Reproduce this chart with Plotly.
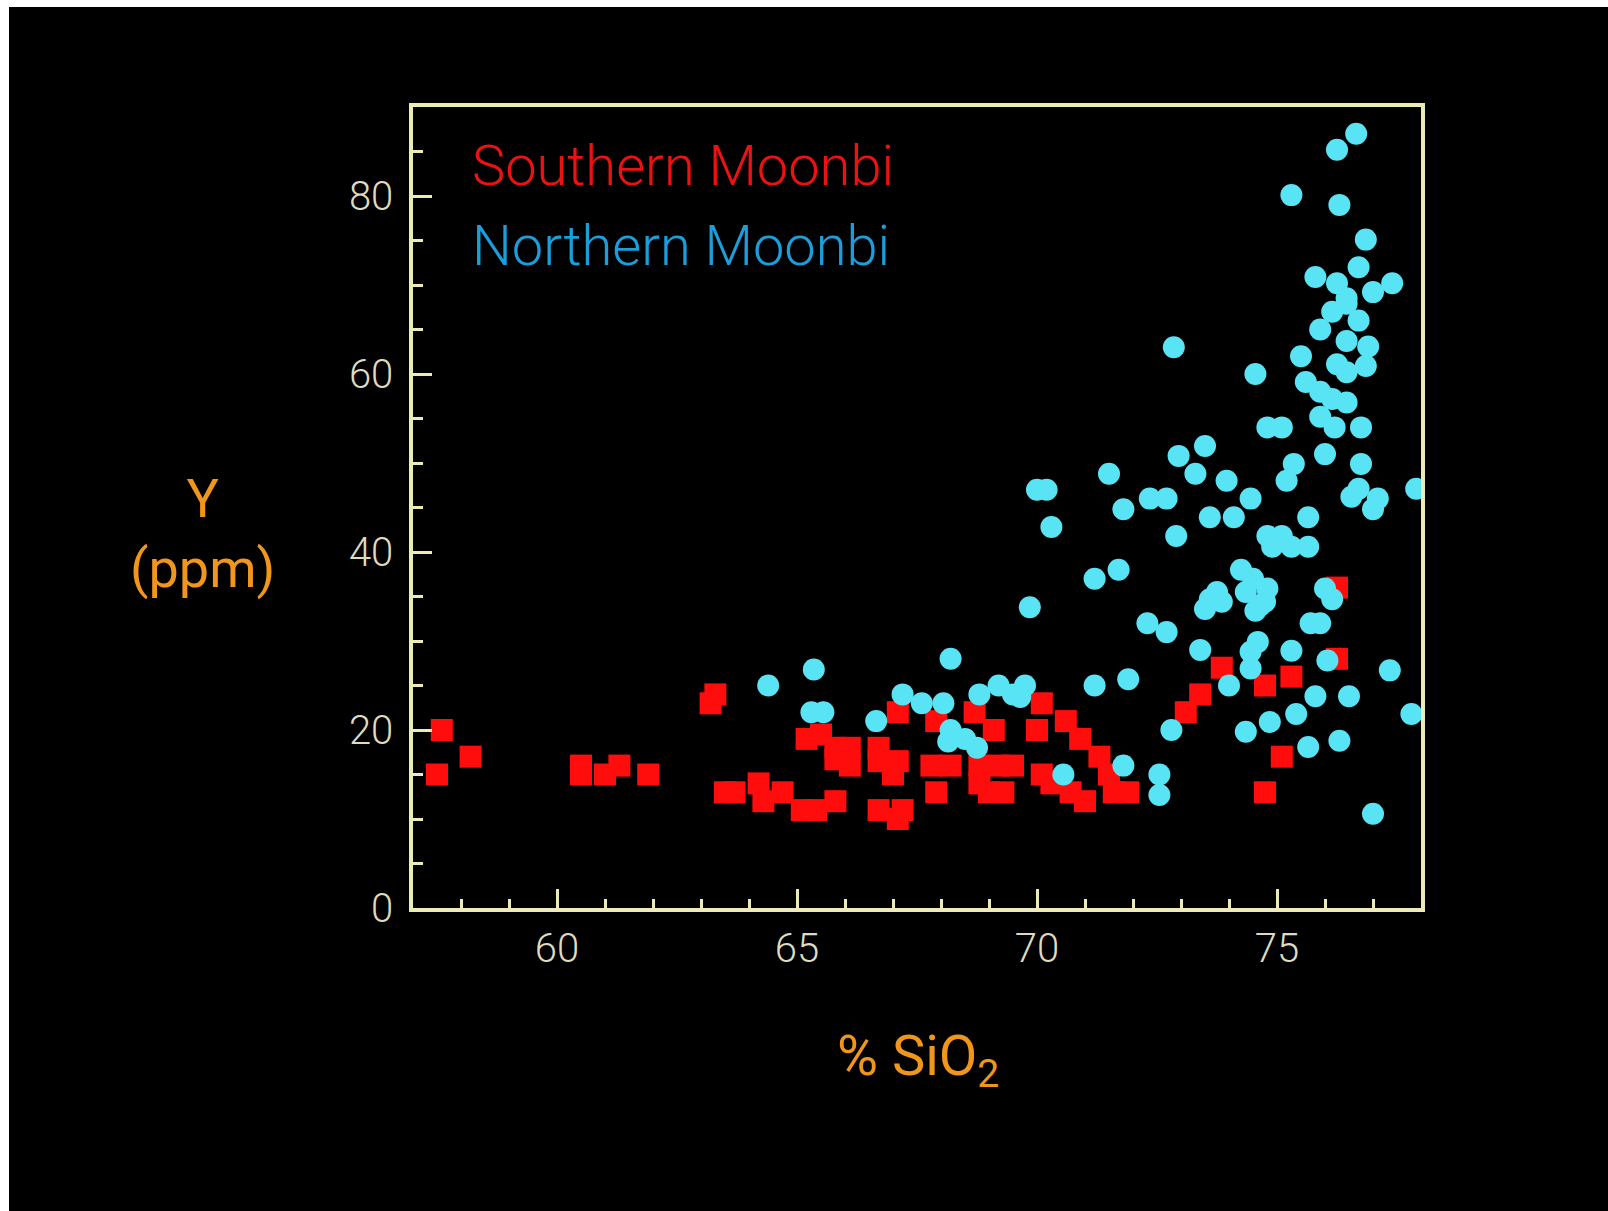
import plotly.graph_objects as go

# Southern Moonbi granites: SiO2 (%) vs Y (ppm)
south_sio2 = [57.6, 57.5, 58.2,
              60.5, 60.5, 61.0, 61.3, 61.9,
              63.3, 63.2,
              63.5, 63.7, 64.2, 64.3, 64.7, 65.1, 65.4, 65.8,
              65.2, 65.5,
              65.8, 66.1, 66.1, 65.8,
              66.7, 66.7, 67.1, 67.0,
              66.7, 67.1, 67.2,
              67.1, 67.8, 68.2, 67.9, 67.9, 68.7, 69.1,
              68.8, 69.2, 69.5, 68.8, 69.0, 69.3,
              70.1, 70.0, 70.6, 70.9,
              70.1, 70.3, 70.7, 71.0,
              71.3, 71.5, 71.6, 71.9,
              73.1, 73.4, 73.85, 74.75, 75.3, 76.25, 76.25, 75.1, 74.75]
south_y = [20, 15, 17,
           16, 15, 15, 16, 15,
           24, 23,
           13, 13, 14, 12, 13, 11, 11, 12,
           19, 19.5,
           18, 18, 16, 16.7,
           18, 16.5, 16.5, 15,
           11, 10, 11,
           22, 16, 16, 13, 21, 22, 20,
           16, 16, 16, 14, 13, 13,
           23, 20, 21, 19,
           15, 14, 13, 12,
           17, 15, 13, 13,
           22, 24, 27, 25, 26, 28, 36, 17, 13]

# Northern Moonbi granites
north_sio2 = [64.4, 65.35, 65.3, 65.55,
              66.65, 67.2, 67.6, 68.05, 68.2,
              68.2, 68.15, 68.5, 68.75,
              68.8, 69.2, 69.5, 69.75, 69.65,
              69.85, 70.0, 70.2, 70.3, 70.55,
              71.2, 71.9, 71.2, 71.7, 71.5, 71.8, 71.8,
              72.3, 72.7, 72.35, 72.7, 72.85, 72.9, 72.95,
              72.8, 72.55, 72.55,
              73.5, 73.3, 73.95, 73.6, 74.1, 74.45,
              73.5, 73.75, 73.85, 73.6, 73.4, 74.0,
              74.25, 74.5, 74.8, 74.35, 74.65, 74.55, 74.75,
              74.8, 75.1, 74.9, 75.3, 75.65, 75.65,
              74.55, 74.8, 75.1, 75.35, 75.2,
              74.6, 74.45, 74.45, 75.3, 76.05,
              75.8, 76.5, 75.4, 74.85, 74.35, 75.65, 76.3,
              77.35, 77.8, 77.0,
              75.7, 75.9, 76.0, 76.15,
              75.5, 75.9, 76.15, 76.45, 76.7, 76.45, 76.9, 76.85, 76.25, 76.45,
              75.6, 75.9, 76.15, 76.45, 75.9, 76.2, 76.75, 76.0, 76.75,
              76.55, 76.7, 77.1, 77.0, 77.9,
              76.65, 76.25, 75.3, 76.3, 76.85, 76.7, 75.8, 76.25, 77.0, 77.4, 76.45]
north_y = [25, 26.8, 22, 22,
           21, 24, 23, 23, 28,
           20, 18.7, 19, 18,
           24, 25, 24, 25, 23.7,
           33.8, 47, 47, 42.8, 15,
           25, 25.7, 37, 38, 48.8, 44.8, 16,
           32, 31, 46, 46, 63, 41.8, 50.8,
           20, 15, 12.7,
           51.9, 48.8, 48, 43.9, 43.9, 46,
           33.6, 35.5, 34.4, 34.7, 29, 25,
           38, 37, 35.9, 35.5, 34, 33.4, 34.4,
           41.8, 41.8, 40.6, 40.6, 40.6, 43.9,
           60, 54, 54, 49.9, 48,
           29.9, 28.8, 26.9, 28.9, 27.8,
           23.8, 23.8, 21.8, 20.9, 19.8, 18.1, 18.8,
           26.7, 21.8, 10.6,
           32, 32, 35.9, 34.7,
           62, 65, 67, 67.9, 66, 63.7, 63.1, 60.9, 61.1, 60.2,
           59.1, 58, 57.2, 56.8, 55.2, 54, 54, 51, 49.9,
           46.2, 47.1, 46, 44.8, 47.1,
           87, 85.2, 80.1, 79, 75.1, 72, 70.9, 70.2, 69.2, 70.2, 68.5]

x_ticks = [60, 65, 70, 75]
y_ticks = [0, 20, 40, 60, 80]

AXIS = "#ecebb6"
TICKTXT = "#dedcc0"
ORANGE = "#f0961a"
FONT = "Roboto, Liberation Sans, Arial, sans-serif"

W, H = 1608, 1211
ML, MR, MT, MB = 413, 187, 107, 303
PW, PH = W - ML - MR, H - MT - MB


def px(xp):
    return (xp - ML) / PW


def py(yp):
    return (H - MB - yp) / PH


fig = go.Figure()
fig.add_trace(go.Scatter(
    x=south_sio2, y=south_y, mode="markers", name="Southern Moonbi",
    marker=dict(symbol="square", size=22, color="#ff0d0d", line=dict(width=0)),
))
fig.add_trace(go.Scatter(
    x=north_sio2, y=north_y, mode="markers", name="Northern Moonbi",
    marker=dict(symbol="circle", size=22, color="#58e4f4", line=dict(width=0)),
))

axis_common = dict(
    showgrid=False, zeroline=False, showline=True, linewidth=3.5,
    linecolor=AXIS, mirror=True, ticks="inside", ticklen=19, tickwidth=3,
    tickcolor=AXIS, tickfont=dict(family=FONT, size=40, color=TICKTXT, weight=300),
)

fig.update_xaxes(range=[57, 78], tickmode="array", tickvals=x_ticks,
                 ticklabelstandoff=2,
                 minor=dict(dtick=1, tick0=57, ticks="inside", ticklen=9,
                            tickwidth=3, tickcolor=AXIS),
                 **axis_common)
fig.update_yaxes(range=[0, 90], tickmode="array", tickvals=y_ticks,
                 ticklabelstandoff=8,
                 minor=dict(dtick=5, tick0=0, ticks="inside", ticklen=10,
                            tickwidth=3, tickcolor=AXIS),
                 **axis_common)

# series labels inside the frame
fig.add_annotation(x=px(470), y=py(166), xref="paper", yref="paper",
                   text="Southern Moonbi", showarrow=False, xanchor="left",
                   yanchor="middle",
                   font=dict(family=FONT, size=56, color="#ee1111", weight=300))
fig.add_annotation(x=px(470), y=py(246), xref="paper", yref="paper",
                   text="Northern Moonbi", showarrow=False, xanchor="left",
                   yanchor="middle",
                   font=dict(family=FONT, size=56, color="#1a9fdc", weight=300))

# axis titles
fig.add_annotation(x=px(202), y=py(533), xref="paper", yref="paper",
                   text="Y<br>(ppm)", showarrow=False, xanchor="center",
                   yanchor="middle",
                   font=dict(family=FONT, size=54, color=ORANGE))
fig.add_annotation(x=px(918), y=py(1060), xref="paper", yref="paper",
                   text="% SiO<sub>2</sub>", showarrow=False, xanchor="center",
                   yanchor="middle",
                   font=dict(family=FONT, size=56, color=ORANGE))

# thin white strips along the top and left edges of the page
fig.add_shape(type="rect", xref="paper", yref="paper",
              x0=px(0), x1=px(9), y0=py(H), y1=py(0),
              fillcolor="white", line=dict(width=0), layer="above")
fig.add_shape(type="rect", xref="paper", yref="paper",
              x0=px(0), x1=px(W), y0=py(7), y1=py(0),
              fillcolor="white", line=dict(width=0), layer="above")

fig.update_layout(
    width=W, height=H,
    margin=dict(l=ML, r=MR, t=MT, b=MB),
    paper_bgcolor="black", plot_bgcolor="black",
    showlegend=False,
)

fig.write_html("out.html")
